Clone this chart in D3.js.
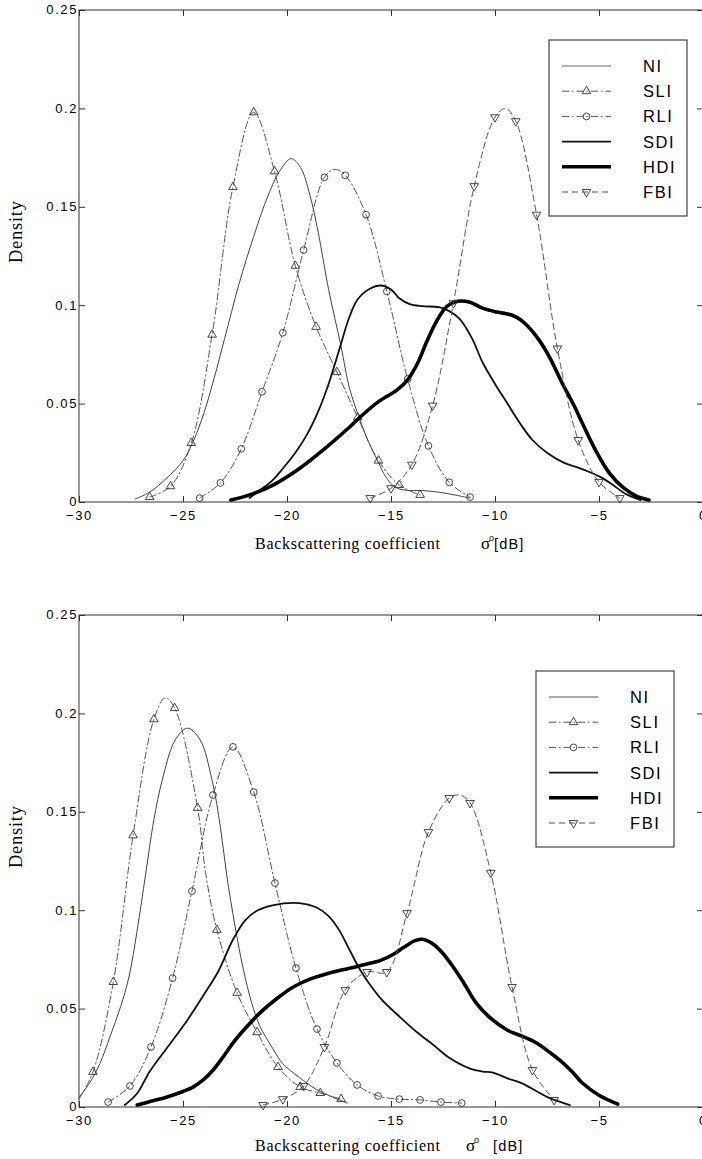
<!DOCTYPE html>
<html>
<head>
<meta charset="utf-8">
<script src="https://cdn.jsdelivr.net/npm/d3@7"></script>
<style>
  html, body { margin: 0; padding: 0; background: #fff; }
  svg { display: block; }
</style>
</head>
<body>
<svg id="chart" width="702" height="1159"></svg>
<script>
// ---- shared axis ticks and series names ----
const xTicks = [-30, -25, -20, -15, -10, -5, 0];
const yTicks = [0, 0.05, 0.1, 0.15, 0.2, 0.25];
const seriesNames = ["NI", "SLI", "RLI", "SDI", "HDI", "FBI"];

// ---- upper panel: density of backscattering coefficient (dB) ----
const topNI = [[-27.3,0.0015],[-26.6,0.005],[-25.8,0.012],[-25.0,0.021],[-24.5,0.031],[-24.0,0.045],[-23.5,0.063],[-23.0,0.083],[-22.3,0.111],[-21.6,0.135],[-20.9,0.156],[-20.3,0.169],[-19.8,0.1745],[-19.35,0.170],[-18.9,0.156],[-18.5,0.137],[-18.0,0.108],[-17.4,0.079],[-17.0,0.058],[-16.5,0.042],[-16.1,0.031],[-15.65,0.021],[-15.2,0.012],[-14.8,0.0075],[-14.3,0.006],[-13.5,0.0058],[-12.7,0.005],[-11.9,0.0035],[-11.2,0.002]];
const topSLI = [[-26.6,0.0025],[-25.6,0.008],[-24.6,0.030],[-23.6,0.085],[-22.6,0.160],[-21.6,0.198],[-20.6,0.168],[-19.6,0.120],[-18.6,0.089],[-17.6,0.066],[-16.6,0.043],[-15.6,0.021],[-14.6,0.0086],[-13.6,0.0036]];
const topSLIExtra = [];
const topRLI = [[-24.2,0.002],[-23.2,0.0097],[-22.2,0.027],[-21.2,0.056],[-20.2,0.086],[-19.2,0.128],[-18.2,0.165],[-17.2,0.166],[-16.2,0.146],[-15.2,0.107],[-14.2,0.0625],[-13.2,0.0285],[-12.2,0.010],[-11.2,0.0025]];
const topRLIExtra = [[-17.7,0.169]];
const topSDI = [[-21.8,0.002],[-21.3,0.006],[-20.7,0.011],[-20.2,0.017],[-19.6,0.025],[-19.0,0.035],[-18.5,0.046],[-18.0,0.060],[-17.5,0.077],[-17.0,0.094],[-16.6,0.103],[-16.0,0.1085],[-15.5,0.110],[-15.0,0.108],[-14.6,0.1035],[-14.1,0.1005],[-13.5,0.0995],[-12.7,0.099],[-12.2,0.097],[-11.7,0.093],[-11.1,0.083],[-10.6,0.071],[-10.0,0.060],[-9.4,0.050],[-8.8,0.040],[-8.2,0.0315],[-7.5,0.025],[-6.7,0.020],[-6.0,0.0175],[-5.4,0.015],[-4.9,0.0125],[-4.4,0.0092],[-3.7,0.004],[-3.0,0.001]];
const topHDI = [[-22.7,0.001],[-21.8,0.0036],[-20.6,0.009],[-19.4,0.017],[-18.2,0.027],[-17.0,0.038],[-16.5,0.043],[-15.6,0.051],[-14.7,0.057],[-14.2,0.062],[-13.7,0.071],[-13.3,0.081],[-12.8,0.092],[-12.3,0.0995],[-11.8,0.102],[-11.2,0.1015],[-10.6,0.0985],[-9.9,0.0965],[-9.2,0.095],[-8.7,0.092],[-8.0,0.084],[-7.4,0.074],[-6.8,0.061],[-6.2,0.049],[-5.8,0.040],[-5.2,0.027],[-4.5,0.0147],[-3.8,0.007],[-3.2,0.003],[-2.6,0.001]];
const topFBI = [[-16.0,0.002],[-15.0,0.007],[-14.0,0.019],[-13.0,0.049],[-12.0,0.101],[-11.0,0.1605],[-10.0,0.1955],[-9.0,0.1935],[-8.0,0.146],[-7.0,0.078],[-6.0,0.0315],[-5.0,0.0102],[-4.0,0.002]];
const topFBIExtra = [[-9.5,0.200]];

// ---- lower panel ----
const botNI = [[-30,0.005],[-29.5,0.012],[-29.0,0.022],[-28.5,0.036],[-28.0,0.051],[-27.6,0.066],[-27.2,0.090],[-26.8,0.118],[-26.4,0.146],[-26.0,0.166],[-25.4,0.186],[-24.8,0.1925],[-24.2,0.187],[-23.6,0.166],[-23.2,0.142],[-22.9,0.118],[-22.5,0.092],[-22.1,0.070],[-21.7,0.053],[-21.3,0.041],[-20.7,0.030],[-20.2,0.022],[-19.4,0.015],[-18.6,0.009],[-17.8,0.005],[-17.1,0.002]];
const botSLI = [[-29.33,0.0178],[-28.35,0.0635],[-27.4,0.138],[-26.4,0.197],[-25.4,0.2027],[-24.3,0.152],[-23.37,0.090],[-22.4,0.058],[-21.44,0.038],[-20.43,0.0203],[-19.37,0.0102],[-18.4,0.0071],[-17.4,0.004]];
const botSLIExtra = [[-30,0.004],[-25.85,0.208],[-23.9,0.118]];
const botRLI = [[-28.6,0.0025],[-27.55,0.0107],[-26.54,0.0305],[-25.5,0.0655],[-24.57,0.1097],[-23.56,0.1585],[-22.6,0.183],[-21.6,0.160],[-20.58,0.1138],[-19.57,0.0706],[-18.56,0.0396],[-17.6,0.0224],[-16.63,0.0112],[-15.62,0.0056],[-14.6,0.004],[-13.6,0.0036],[-12.6,0.0025],[-11.6,0.002]];
const botRLIExtra = [];
const botSDI = [[-27.8,0.001],[-27.2,0.007],[-26.6,0.018],[-25.7,0.031],[-24.8,0.044],[-24.0,0.057],[-23.3,0.069],[-22.6,0.085],[-22.0,0.095],[-21.4,0.100],[-20.7,0.1025],[-19.4,0.1036],[-18.6,0.1015],[-18.0,0.097],[-17.5,0.090],[-17.0,0.080],[-16.5,0.070],[-16.0,0.062],[-15.4,0.054],[-14.6,0.046],[-13.75,0.038],[-12.9,0.031],[-12.2,0.025],[-11.2,0.0195],[-10.6,0.018],[-10.1,0.0175],[-9.4,0.0145],[-8.7,0.012],[-8.0,0.008],[-7.4,0.0046],[-6.4,0.001]];
const botHDI = [[-27.2,0.001],[-26.5,0.003],[-25.8,0.005],[-25.1,0.0075],[-24.5,0.0102],[-24.0,0.014],[-23.55,0.0188],[-23.1,0.025],[-22.6,0.0325],[-22.0,0.040],[-21.3,0.0478],[-20.5,0.055],[-19.7,0.061],[-18.9,0.065],[-18.0,0.068],[-17.0,0.0705],[-16.2,0.0725],[-15.5,0.0745],[-14.9,0.0775],[-14.4,0.081],[-13.9,0.0843],[-13.5,0.0852],[-13.0,0.083],[-12.5,0.078],[-12.0,0.071],[-11.5,0.063],[-10.9,0.0528],[-10.2,0.045],[-9.4,0.039],[-8.7,0.036],[-8.0,0.0325],[-7.4,0.028],[-6.9,0.0239],[-6.3,0.018],[-5.8,0.0122],[-5.0,0.006],[-4.1,0.0015]];
const botFBI = [[-21.15,0.001],[-20.2,0.004],[-19.2,0.0107],[-18.2,0.0305],[-17.2,0.0594],[-16.15,0.0686],[-15.2,0.0686],[-14.23,0.0985],[-13.2,0.1397],[-12.2,0.157],[-11.2,0.1545],[-10.2,0.119],[-9.18,0.061],[-8.2,0.0188],[-7.16,0.0036]];
const botFBIExtra = [[-11.7,0.1585]];

// ---- drawing ----
const svg = d3.select("#chart");
const x = d3.scaleLinear().domain([-30, 0]).range([79, 703]);

const styles = {
  NI:  { stroke: "#444", width: 1,   dash: null,            marker: null },
  SLI: { stroke: "#555", width: 1,   dash: "7,3,1.5,3",     marker: "up" },
  RLI: { stroke: "#555", width: 1,   dash: "7,3,1.5,3",     marker: "circle" },
  SDI: { stroke: "#111", width: 1.8, dash: null,            marker: null },
  HDI: { stroke: "#000", width: 3.6, dash: null,            marker: null },
  FBI: { stroke: "#555", width: 1,   dash: "6,4",           marker: "down" }
};

const sortByX = arr => arr.slice().sort((a, b) => a[0] - b[0]);
const fmtX = d => d < 0 ? "\u2212" + Math.abs(d) : String(d);
const fmtY = d => d === 0 ? "0" : String(d);

function markerPath(kind) {
  if (kind === "circle") return d3.symbol(d3.symbolCircle, 36)();
  return d3.symbol(d3.symbolTriangle, 32)();
}
function drawMarker(sel, kind, cx, cy) {
  sel.append("path")
    .attr("d", markerPath(kind))
    .attr("transform", `translate(${cx},${cy})` + (kind === "down" ? " rotate(180)" : ""))
    .attr("fill", "none")
    .attr("stroke", "#333")
    .attr("stroke-width", 0.9);
}

function styleAxis(g) {
  g.select(".domain").remove();
  g.selectAll(".tick line").attr("stroke", "#333").attr("stroke-width", 1);
  g.selectAll(".tick text")
    .attr("fill", "#000")
    .style("font-family", "'Liberation Sans', Arial, sans-serif")
    .style("font-size", "13px")
    .style("letter-spacing", "1.6px");
}

function drawPanel(p) {
  const y = d3.scaleLinear().domain([0, 0.25]).range([p.bottom, p.top]);
  const g = svg.append("g");

  // axes: ticks point inward on all four sides
  g.append("g").attr("transform", `translate(0,${y(0)})`)
    .call(d3.axisBottom(x).tickValues(xTicks).tickSize(-6).tickSizeOuter(0).tickPadding(9).tickFormat(fmtX))
    .call(styleAxis);
  g.append("g").attr("transform", `translate(0,${y(0.25)})`)
    .call(d3.axisTop(x).tickValues(xTicks).tickSize(-6).tickSizeOuter(0).tickFormat(""))
    .call(styleAxis);
  g.append("g").attr("transform", `translate(${x(-30)},0)`)
    .call(d3.axisLeft(y).tickValues(yTicks).tickSize(-6).tickSizeOuter(0).tickPadding(1).tickFormat(fmtY))
    .call(styleAxis)
    .call(ax => ax.selectAll(".tick text").attr("dy", "0.3em"));
  g.append("g").attr("transform", `translate(${x(0)},0)`)
    .call(d3.axisRight(y).tickValues(yTicks).tickSize(-6).tickSizeOuter(0).tickFormat(""))
    .call(styleAxis);

  g.append("rect")
    .attr("x", x(-30)).attr("y", y(0.25))
    .attr("width", x(0) - x(-30)).attr("height", y(0) - y(0.25))
    .attr("fill", "none").attr("stroke", "#333").attr("stroke-width", 1);

  const line = d3.line()
    .x(d => x(d[0])).y(d => y(d[1]))
    .curve(d3.curveCatmullRom.alpha(0.5));

  seriesNames.forEach(name => {
    const s = styles[name];
    const pts = sortByX(p.lines[name]);
    g.append("path")
      .attr("d", line(pts))
      .attr("fill", "none")
      .attr("stroke", s.stroke)
      .attr("stroke-width", s.width)
      .attr("stroke-dasharray", s.dash)
      .attr("stroke-linejoin", "round")
      .attr("stroke-linecap", "round");
    if (s.marker) {
      const mg = g.append("g");
      p.marks[name].forEach(d => drawMarker(mg, s.marker, x(d[0]), y(d[1])));
    }
  });

  // legend
  const L = p.legend;
  const lg = g.append("g");
  lg.append("rect")
    .attr("x", L.x).attr("y", L.y).attr("width", 138).attr("height", 176)
    .attr("fill", "#fff").attr("stroke", "#444").attr("stroke-width", 1.2);
  seriesNames.forEach((name, i) => {
    const s = styles[name];
    const ry = L.y + 26 + i * 25.2;
    const x1 = L.x + 13, x2 = L.x + 62;
    lg.append("line")
      .attr("x1", x1).attr("x2", x2).attr("y1", ry).attr("y2", ry)
      .attr("stroke", name === "NI" ? L.niColor : s.stroke)
      .attr("stroke-width", name === "NI" ? L.niWidth : s.width)
      .attr("stroke-dasharray", s.dash);
    if (s.marker) drawMarker(lg, s.marker, (x1 + x2) / 2, ry);
    lg.append("text")
      .attr("x", L.x + 94).attr("y", ry + 6)
      .attr("fill", "#000")
      .style("font-family", "'Liberation Sans', Arial, sans-serif")
      .style("font-size", "16.5px")
      .style("letter-spacing", "1.6px")
      .text(name);
  });

  // axis titles
  const T = p.titles;
  g.append("text")
    .attr("x", 255).attr("y", T.xBase)
    .attr("textLength", 185).attr("lengthAdjust", "spacing")
    .attr("fill", "#000")
    .style("font-family", "'Liberation Serif', 'Times New Roman', serif")
    .style("font-size", "16px")
    .text("Backscattering coefficient");
  g.append("text")
    .attr("x", T.sigmaX).attr("y", T.xBase)
    .attr("fill", "#000")
    .style("font-family", "'Liberation Serif', 'Times New Roman', serif")
    .style("font-size", "17px")
    .text("\u03c3");
  g.append("text")
    .attr("x", T.sigmaX + 8).attr("y", T.xBase - 8)
    .attr("fill", "#000")
    .style("font-family", "'Liberation Sans', Arial, sans-serif")
    .style("font-size", "9px")
    .text("o");
  g.append("text")
    .attr("x", T.dbX).attr("y", T.xBase)
    .attr("fill", "#000")
    .style("font-family", "'Liberation Sans', Arial, sans-serif")
    .style("font-size", "14.5px")
    .style("letter-spacing", "1.2px")
    .text("[dB]");
  g.append("text")
    .attr("transform", `translate(22,${T.yMid}) rotate(-90)`)
    .attr("text-anchor", "middle")
    .attr("textLength", 62).attr("lengthAdjust", "spacing")
    .attr("fill", "#000")
    .style("font-family", "'Liberation Serif', 'Times New Roman', serif")
    .style("font-size", "18.5px")
    .text("Density");
}

drawPanel({
  top: 10, bottom: 502,
  lines: {
    NI: topNI, SLI: topSLI.concat(topSLIExtra), RLI: topRLI.concat(topRLIExtra),
    SDI: topSDI, HDI: topHDI, FBI: topFBI.concat(topFBIExtra)
  },
  marks: { SLI: topSLI, RLI: topRLI, FBI: topFBI },
  legend: { x: 549, y: 40, niColor: "#9a9a9a", niWidth: 1.6 },
  titles: { xBase: 549, sigmaX: 481, dbX: 494, yMid: 232 }
});

drawPanel({
  top: 615, bottom: 1107,
  lines: {
    NI: botNI, SLI: botSLI.concat(botSLIExtra), RLI: botRLI.concat(botRLIExtra),
    SDI: botSDI, HDI: botHDI, FBI: botFBI.concat(botFBIExtra)
  },
  marks: { SLI: botSLI, RLI: botRLI, FBI: botFBI },
  legend: { x: 536, y: 671, niColor: "#555", niWidth: 1 },
  titles: { xBase: 1151, sigmaX: 466, dbX: 493, yMid: 837 }
});
</script>
</body>
</html>
